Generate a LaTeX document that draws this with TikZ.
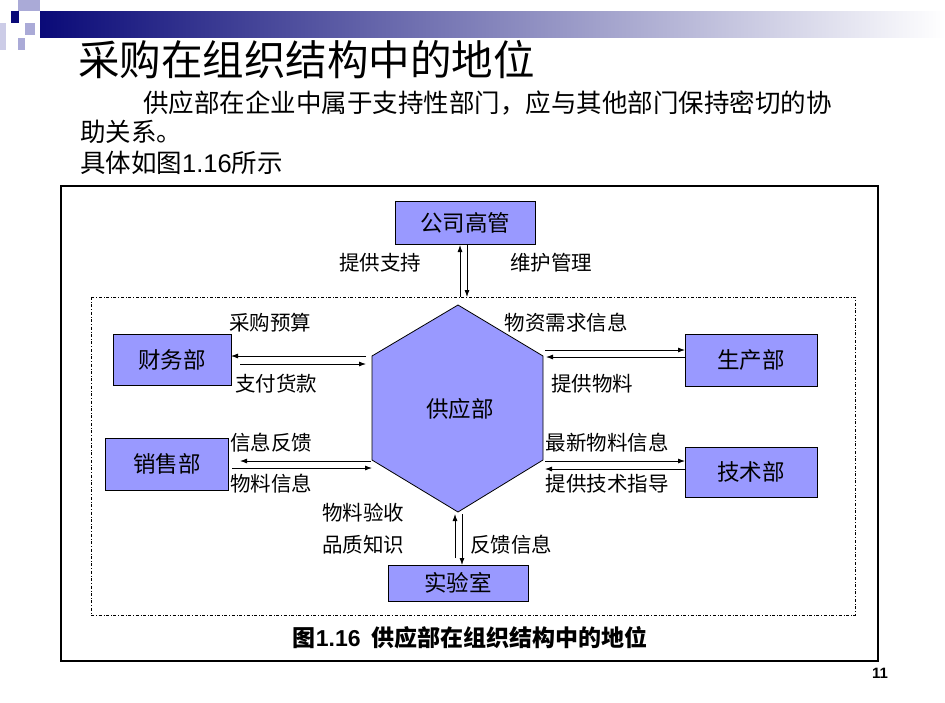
\documentclass[tikz,border=0pt]{standalone}
\usepackage{fontspec}
\setmainfont{Noto Sans CJK SC}
\newfontfamily\latin{Liberation Sans}
\usetikzlibrary{arrows.meta}
\begin{document}
\begin{tikzpicture}[x=1pt,y=-1pt,
  box/.style={draw=black,fill=hexblue,line width=1pt},
  bt/.style={font=\fontsize{22.5}{22.5}\selectfont},
  lbl/.style={font=\fontsize{20.5}{20.5}\selectfont,inner sep=0pt},
  bl/.style={font=\fontsize{22.5}{22.5}\selectfont,inner sep=0pt},
  ar/.style={-{Latex[length=7pt,width=5pt]},line width=0.8pt}]
\definecolor{hexblue}{RGB}{153,153,255}
\definecolor{navy}{RGB}{10,10,120}
\definecolor{lav}{RGB}{170,170,215}
\useasboundingbox (0,0) rectangle (945,702);
\fill[white] (0,0) rectangle (945,702);
% header
\shade[left color=navy,right color=white] (40,11) rectangle (945,37);
\fill[lav] (18,0) rectangle (40,11);
\fill[navy] (11,11) rectangle (19,23);
\fill[lav] (25,23) rectangle (35,35);
\fill[lav] (18,38) rectangle (25,50);
\fill[lav!60] (0,23) rectangle (6,50);
\node[anchor=west,inner sep=0pt,font=\fontsize{41.5}{41.5}\selectfont] (title) at (78,60) {采购在组织结构中的地位};
\node[anchor=west,inner sep=0pt,font=\fontsize{25.5}{25.5}\selectfont] (p1) at (143,103) {供应部在企业中属于支持性部门，应与其他部门保持密切的协};
\node[anchor=west,inner sep=0pt,font=\fontsize{25.5}{25.5}\selectfont] (p2) at (80,132) {助关系。};
\node[anchor=west,inner sep=0pt,font=\fontsize{25.5}{25.5}\selectfont] (p3) at (80,163) {具体如图{\latin 1.16}所示};
% frames
\draw[line width=2.5pt] (61,186) rectangle (878,661);
\draw[dash dot,line width=0.7pt] (91,297) rectangle (855,615);
% hexagon
\draw[fill=hexblue,line width=0.8pt] (458,305) -- (543,356) -- (543,460) -- (458,512) -- (372,460) -- (372,356) -- cycle;
\node[bl] (sup) at (460,409) {供应部};
% boxes
\node[box,bt,minimum width=140pt,minimum height=43pt] (gs) at (465,223) {公司高管};
\node[box,bt,minimum width=118pt,minimum height=51pt] (cw) at (172,360) {财务部};
\node[box,bt,minimum width=123pt,minimum height=52pt] (xs) at (167,464) {销售部};
\node[box,bt,minimum width=132pt,minimum height=52pt] (sc) at (751,360) {生产部};
\node[box,bt,minimum width=132pt,minimum height=50pt] (js) at (751,472) {技术部};
\node[box,bt,minimum width=140pt,minimum height=36pt] (sy) at (458,583) {实验室};
% arrows
\draw[ar] (460,297) -- (460,245);
\draw[ar] (467,245) -- (467,297);
\draw[ar] (366,356) -- (231,356);
\draw[ar] (240,364) -- (366,364);
\draw[ar] (545,350) -- (685,350);
\draw[ar] (685,357) -- (546,357);
\draw[ar] (371,461) -- (240,461);
\draw[ar] (232,468) -- (372,468);
\draw[ar] (545,461) -- (685,461);
\draw[ar] (685,469) -- (545,469);
\draw[ar] (455,558) -- (455,514);
\draw[ar] (462,514) -- (462,565);
% labels
\node[lbl] at (380,263) {提供支持};
\node[lbl] at (551,263) {维护管理};
\node[lbl] at (270,323) {采购预算};
\node[lbl] at (276,384) {支付货款};
\node[lbl] at (566,323) {物资需求信息};
\node[lbl] at (592,384) {提供物料};
\node[lbl] at (271,443) {信息反馈};
\node[lbl] at (271,484) {物料信息};
\node[lbl] at (607,443) {最新物料信息};
\node[lbl] at (607,484) {提供技术指导};
\node[lbl] at (363,513) {物料验收};
\node[lbl] at (363,545) {品质知识};
\node[lbl] at (511,545) {反馈信息};
\node[inner sep=0pt,font=\fontsize{23}{23}\selectfont\bfseries] (cap) at (470,638) {图{\latin\bfseries 1.16}\ \ 供应部在组织结构中的地位};
\node[inner sep=0pt,font=\latin\bfseries\fontsize{15}{15}\selectfont] (pg) at (880,673) {11};
\end{tikzpicture}
\end{document}
